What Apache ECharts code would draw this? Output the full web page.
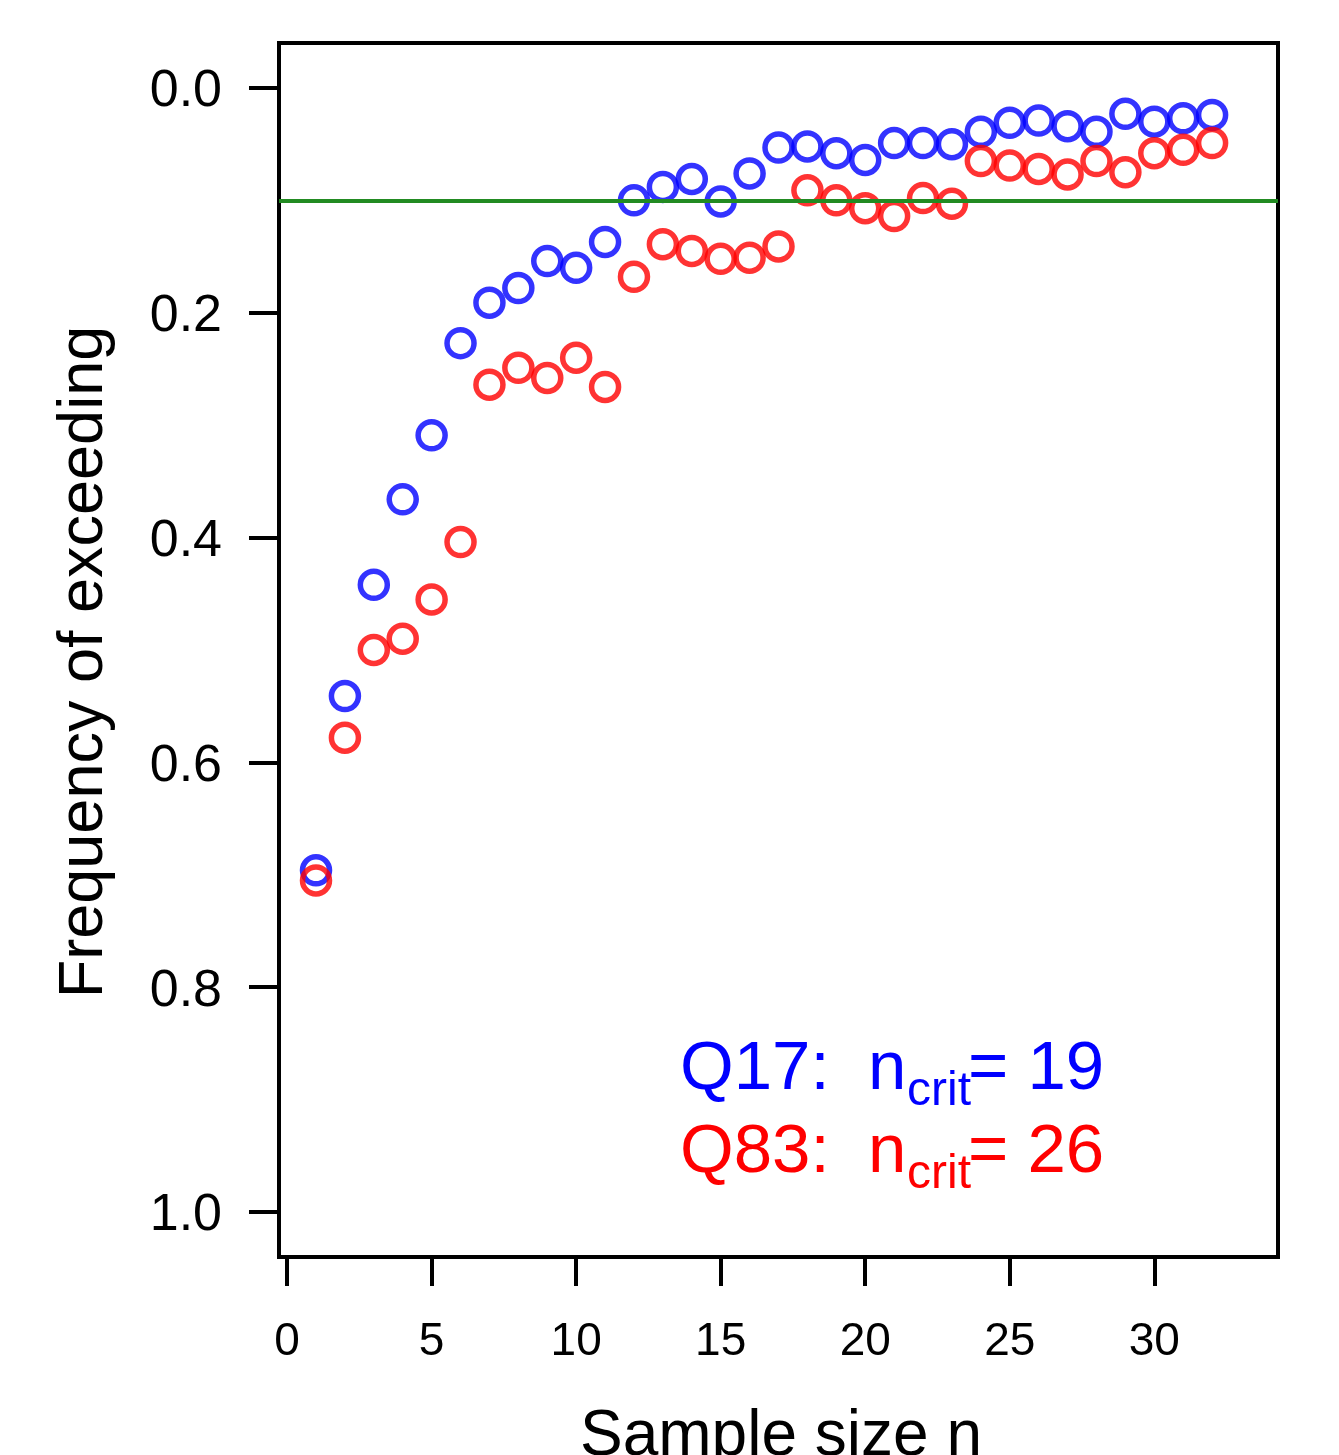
<!DOCTYPE html>
<html>
<head>
<meta charset="utf-8">
<script src="https://cdn.jsdelivr.net/npm/echarts@6/dist/echarts.min.js"></script>
<style>
  html, body { margin: 0; padding: 0; background: #fff; }
  #chart { width: 1339px; height: 1455px; }
</style>
</head>
<body>
<div id="chart"></div>
<script>
// sample sizes
var sampleSize = [1, 2, 3, 4, 5, 6, 7, 8, 9, 10, 11, 12, 13, 14, 15, 16,
  17, 18, 19, 20, 21, 22, 23, 24, 25, 26, 27, 28, 29, 30, 31, 32]
// frequency of exceeding, Q17 (blue)
var q17 = [0.696, 0.541, 0.442, 0.366, 0.309, 0.227, 0.191, 0.178, 0.154, 0.160, 0.137, 0.100,
  0.088, 0.081, 0.101, 0.076, 0.053, 0.052, 0.058, 0.064, 0.049, 0.049, 0.050, 0.039,
  0.031, 0.029, 0.034, 0.039, 0.023, 0.030, 0.027, 0.024]
// frequency of exceeding, Q83 (red)
var q83 = [0.705, 0.578, 0.500, 0.490, 0.455, 0.404, 0.264, 0.249, 0.258, 0.240, 0.266, 0.168,
  0.139, 0.145, 0.152, 0.151, 0.141, 0.091, 0.100, 0.107, 0.114, 0.098, 0.103, 0.065,
  0.069, 0.072, 0.077, 0.065, 0.075, 0.058, 0.055, 0.049]
var xTicks = [0, 5, 10, 15, 20, 25, 30]
var yTicks = [0, 0.2, 0.4, 0.6, 0.8, 1.0]
var threshold = 0.1

var FONT = '"Liberation Sans", Arial, sans-serif'

function pairs(ys) {
  return sampleSize.map(function (n, i) { return [n, ys[i]] })
}

var chart = echarts.init(document.getElementById('chart'))

chart.setOption({
  animation: false,
  backgroundColor: '#fff',
  grid: {
    left: 279,
    right: 61,
    top: 43,
    bottom: 198,
    show: true,
    borderColor: '#000',
    borderWidth: 4,
    backgroundColor: 'transparent'
  },
  xAxis: {
    type: 'value',
    position: 'bottom',
    min: -0.28,
    max: 34.28,
    splitLine: { show: false },
    axisLine: { show: false, onZero: false },
    axisTick: {
      show: true,
      customValues: xTicks,
      length: 29,
      lineStyle: { color: '#000', width: 4 }
    },
    axisLabel: {
      customValues: xTicks,
      margin: 62,
      color: '#000',
      fontSize: 46,
      fontFamily: FONT
    }
  },
  yAxis: {
    type: 'value',
    inverse: true,
    min: -0.04,
    max: 1.04,
    splitLine: { show: false },
    axisLine: { show: false, onZero: false },
    axisTick: {
      show: true,
      customValues: yTicks,
      length: 30,
      lineStyle: { color: '#000', width: 4 }
    },
    axisLabel: {
      customValues: yTicks,
      margin: 57,
      verticalAlign: 'top',
      lineHeight: 8,
      color: '#000',
      fontSize: 52,
      fontFamily: FONT,
      formatter: function (v) { return v.toFixed(1) }
    }
  },
  series: [
    {
      name: 'Q17',
      type: 'scatter',
      data: pairs(q17),
      symbol: 'circle',
      symbolSize: 27,
      itemStyle: { color: 'rgba(0,0,0,0)', borderColor: '#0000ff', borderWidth: 5.5 },
      emphasis: { disabled: true },
      markLine: {
        silent: true,
        symbol: 'none',
        label: { show: false },
        lineStyle: { color: '#228b22', width: 4, type: 'solid' },
        data: [{ yAxis: threshold }]
      },
      z: 3
    },
    {
      name: 'Q83',
      type: 'scatter',
      data: pairs(q83),
      symbol: 'circle',
      symbolSize: 27,
      itemStyle: { color: 'rgba(0,0,0,0)', borderColor: '#ff0000', borderWidth: 5.5 },
      emphasis: { disabled: true },
      z: 4
    }
  ],
  graphic: [
    // axis titles
    {
      type: 'text', x: 781, y: 1405,
      style: { text: 'Sample size n', fill: '#000', font: '64px ' + FONT, align: 'center', verticalAlign: 'top' }
    },
    {
      type: 'text', x: 85, y: 662, rotation: Math.PI / 2,
      style: { text: 'Frequency of exceeding', fill: '#000', font: '63px ' + FONT, align: 'center', verticalAlign: 'middle' }
    },
    // annotation, blue
    { type: 'text', x: 680, y: 1070, style: { text: 'Q17:  n', fill: '#0000ff', font: '69px ' + FONT, verticalAlign: 'middle' } },
    { type: 'text', x: 907, y: 1092, style: { text: 'crit', fill: '#0000ff', font: '48px ' + FONT, verticalAlign: 'middle' } },
    { type: 'text', x: 968, y: 1070, style: { text: '= 19', fill: '#0000ff', font: '69px ' + FONT, verticalAlign: 'middle' } },
    // annotation, red
    { type: 'text', x: 680, y: 1153, style: { text: 'Q83:  n', fill: '#ff0000', font: '69px ' + FONT, verticalAlign: 'middle' } },
    { type: 'text', x: 907, y: 1175, style: { text: 'crit', fill: '#ff0000', font: '48px ' + FONT, verticalAlign: 'middle' } },
    { type: 'text', x: 968, y: 1153, style: { text: '= 26', fill: '#ff0000', font: '69px ' + FONT, verticalAlign: 'middle' } }
  ]
})
</script>
</body>
</html>
